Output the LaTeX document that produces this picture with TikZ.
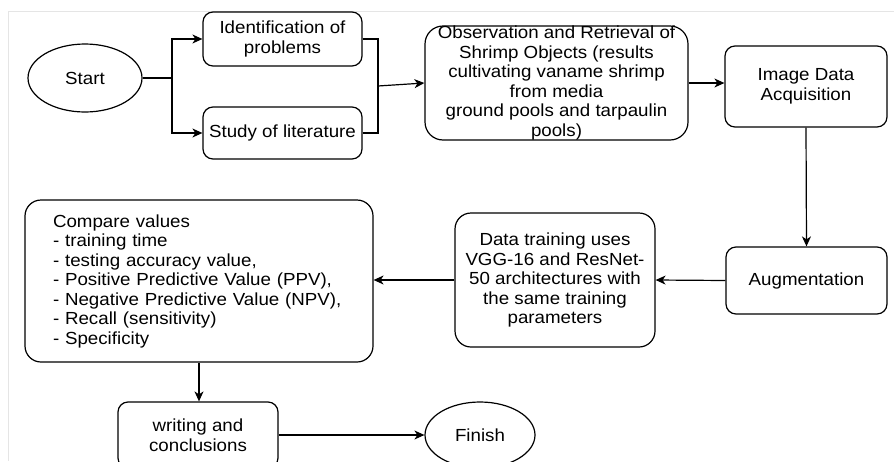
\documentclass[tikz,border=0pt]{standalone}
\usepackage{fontspec}
\setmainfont{Liberation Sans}[FakeStretch=1.07]
\usetikzlibrary{shapes.geometric,arrows.meta}
\begin{document}
\begin{tikzpicture}[x=1pt,y=-1pt,
  every node/.style={font=\fontsize{17.5}{19.5}\selectfont, inner sep=0pt, align=center},
  procbox/.style={draw, rounded corners=10pt, line width=1.2pt},
  termin/.style={draw, ellipse, line width=1.2pt},
  conn/.style={line width=1.2pt},
  arr/.style={conn, -{Stealth[length=10pt,width=9pt,inset=3pt]}}]
\useasboundingbox (0,0) rectangle (894,461);
\clip (0,0) rectangle (894,461);
\draw[black!10, line width=1pt] (8,461) -- (8,11) -- (894,11);

\node[termin, minimum width=114pt, minimum height=68pt] (start) at (85,78) {Start};
\node[procbox, minimum width=159pt, minimum height=54pt] (ident) at (282.5,39) {Identification of\\problems};
\node[procbox, minimum width=159pt, minimum height=52pt] (study) at (282.5,133) {Study of literature};
\node[procbox, rounded corners=18pt, minimum width=263pt, minimum height=114pt] (obs) at (556.5,83)
  {Observation and Retrieval of\\Shrimp Objects (results\\cultivating vaname shrimp\\from media\\ground pools and tarpaulin\\pools)};
\node[procbox, minimum width=162pt, minimum height=81pt] (img) at (806,86.5) {Image Data\\Acquisition};
\node[procbox, minimum width=161pt, minimum height=67pt] (aug) at (806.5,280.5) {Augmentation};
\node[procbox, rounded corners=16pt, minimum width=200pt, minimum height=134pt] (dt) at (555,280)
  {Data training uses\\VGG-16 and ResNet-\\50 architectures with\\the same training\\parameters};
\node[procbox, rounded corners=16pt, minimum width=348pt, minimum height=162pt, text width=292pt, align=left] (cmp) at (199,281)
  {Compare values\\- training time\\- testing accuracy value,\\- Positive Predictive Value (PPV),\\- Negative Predictive Value (NPV),\\- Recall (sensitivity)\\- Specificity};
\node[procbox, minimum width=160pt, minimum height=66pt] (wr) at (198,435) {writing and\\conclusions};
\node[termin, minimum width=110pt, minimum height=66pt] (fin) at (480,435) {Finish};

\coordinate (split) at (172,78);
\coordinate (merge) at (378,86);
\draw[conn] (start.east) -- (split);
\draw[arr] (split) |- (ident.west);
\draw[arr] (split) |- (study.west);
\draw[conn] (ident.east) -| (merge);
\draw[conn] (study.east) -| (merge);
\draw[arr] (merge) -- (obs.west);
\draw[arr] (obs.east) -- (obs.east -| img.west);
\draw[arr] (img.south) -- (aug.north);
\draw[arr] (aug.west) -- (dt.east);
\draw[arr] (dt.west) -- (dt.west -| cmp.east);
\draw[arr] (cmp.south) -- (cmp.south |- wr.north);
\draw[arr] (wr.east) -- (fin.west);
\end{tikzpicture}
\end{document}
